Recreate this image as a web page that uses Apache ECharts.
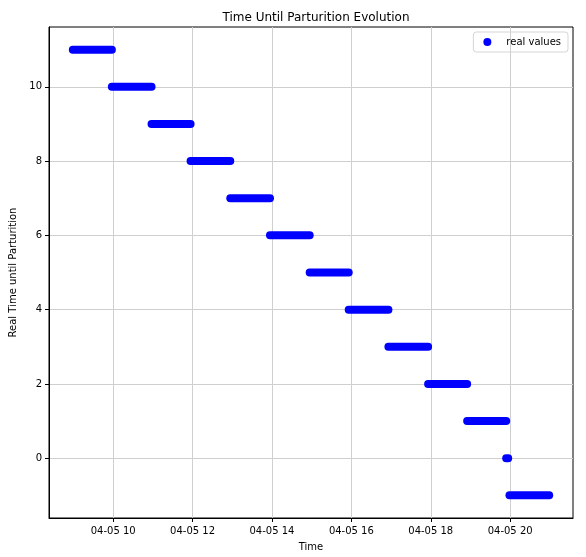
<!doctype html>
<html lang="en">
<head>
    <meta charset="UTF-8">
    <script src="https://cdn.jsdelivr.net/npm/echarts@6/dist/echarts.min.js"></script>
    <title>Time Until Parturition Evolution</title>
    <style>
        html, body { margin: 0; padding: 0; background: #fff; }
    </style>
</head>
<body>
<!-- chart area -->
<div id="main" style="width: 586px; height: 557px"></div>
<script type="text/javascript">
    // each run of readings: start time, end time, value
    var day = '2024-04-05';
    var segStart = ['08:59', '09:58', '10:58', '11:57', '12:57', '13:57', '14:57', '15:56', '16:56', '17:56', '18:55', '19:54', '19:59'];
    var segEnd   = ['09:58', '10:58', '11:57', '12:57', '13:57', '14:57', '15:56', '16:56', '17:56', '18:55', '19:54', '19:57', '20:59'];
    var segValue = [11, 10, 9, 8, 7, 6, 5, 4, 3, 2, 1, 0, -1];

    // tick positions
    var xTicks = ['10:00', '12:00', '14:00', '16:00', '18:00', '20:00'];
    var yTicks = [0, 2, 4, 6, 8, 10];

    var xMin = '08:23';
    var xMax = '21:35';
    var yMin = -1.61;
    var yMax = 11.61;

    function pad(n) { return (n < 10 ? '0' : '') + n; }
    function toMs(hhmm) { return new Date(day + 'T' + hhmm + ':00').getTime(); }

    var seriesList = [];
    for (var i = 0; i < segValue.length; i++) {
        seriesList.push({
            name: 'real values',
            type: 'line',
            showSymbol: false,
            silent: true,
            color: '#0000ff',
            lineStyle: { color: '#0000ff', width: 8, cap: 'round' },
            data: [[toMs(segStart[i]), segValue[i]], [toMs(segEnd[i]), segValue[i]]]
        });
    }
    var xTickMs = xTicks.map(toMs);

    var mychart = echarts.init(document.getElementById('main'));
    var option = {
        animation: false,
        textStyle: { fontFamily: 'DejaVu Sans' },
        title: {
            text: 'Time Until Parturition Evolution',
            left: 311,
            textAlign: 'center',
            top: 7,
            textStyle: { fontSize: 12, fontWeight: 'normal', color: '#000', fontFamily: 'DejaVu Sans' }
        },
        legend: {
            data: [{ name: 'real values', icon: 'circle' }],
            right: 18,
            top: 32,
            itemWidth: 28,
            itemHeight: 8,
            padding: [5, 7, 5, 10],
            borderColor: '#d5d5d5',
            borderWidth: 1,
            borderRadius: 3,
            textStyle: { fontSize: 10, color: '#000', fontFamily: 'DejaVu Sans' }
        },
        grid: {
            left: 49, right: 13, top: 27, bottom: 38,
            show: true, borderColor: '#000', borderWidth: 1
        },
        xAxis: {
            type: 'value',
            min: toMs(xMin),
            max: toMs(xMax),
            name: 'Time',
            nameLocation: 'middle',
            nameGap: 24,
            nameTextStyle: { fontSize: 10, color: '#000' },
            axisLine: { onZero: false, lineStyle: { color: '#000' } },
            axisTick: { show: true, length: 4, lineStyle: { color: '#000' }, customValues: xTickMs },
            axisLabel: {
                fontSize: 10, color: '#000', margin: 8,
                customValues: xTickMs,
                formatter: function (val) {
                    var d = new Date(val);
                    return pad(d.getMonth() + 1) + '-' + pad(d.getDate()) + ' ' + pad(d.getHours());
                }
            },
            splitLine: { show: true, lineStyle: { color: '#cfcfcf', width: 1 } }
        },
        yAxis: {
            type: 'value',
            min: yMin,
            max: yMax,
            name: 'Real Time until Parturition',
            nameLocation: 'middle',
            nameGap: 28,
            nameTextStyle: { fontSize: 10, color: '#000' },
            axisLine: { show: true, lineStyle: { color: '#000' } },
            axisTick: { show: true, length: 4, lineStyle: { color: '#000' }, customValues: yTicks },
            axisLabel: { fontSize: 10, color: '#000', margin: 7, customValues: yTicks },
            splitLine: { show: true, lineStyle: { color: '#cfcfcf', width: 1 } }
        },
        series: seriesList
    };
    mychart.setOption(option);
</script>
</body>
</html>
